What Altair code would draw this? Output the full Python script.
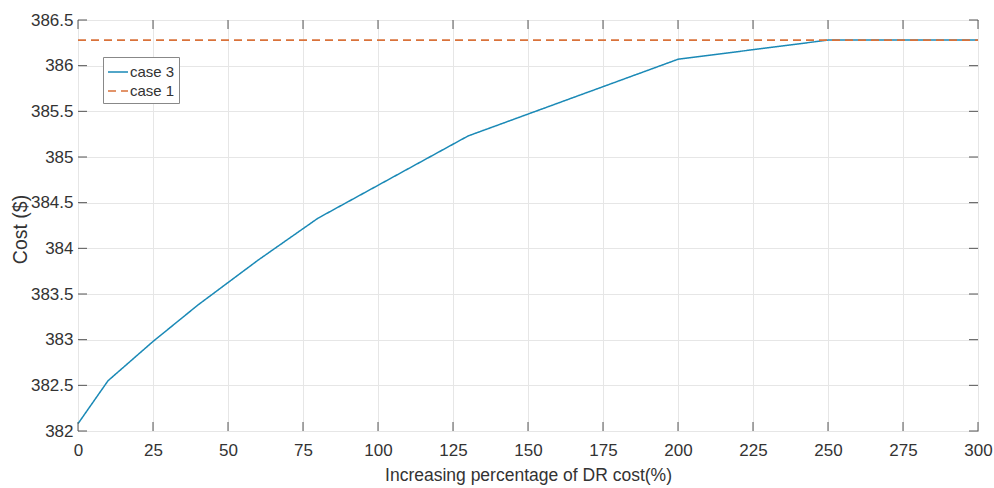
import altair as alt
import pandas as pd

# DR cost increase (%) and resulting operating cost ($)
pct_case3 = [0, 10, 25, 40, 60, 80, 130, 200, 250, 300]
cost_case3 = [382.08, 382.55, 382.98, 383.38, 383.87, 384.33, 385.23, 386.07, 386.28, 386.28]

pct_case1 = [0, 300]
cost_case1 = [386.28, 386.28]

x_ticks = [0, 25, 50, 75, 100, 125, 150, 175, 200, 225, 250, 275, 300]
y_ticks = [382, 382.5, 383, 383.5, 384, 384.5, 385, 385.5, 386, 386.5]

series = ["case 3", "case 1"]
colors = ["#1a89b6", "#d9723a"]
dashes = [[1, 0], [8, 5]]

W, H = 900, 411
FONT = "Liberation Sans"
AXIS_COLOR = "#555555"
TEXT_COLOR = "#333333"

df3 = pd.DataFrame({"pct": pct_case3, "cost": cost_case3, "series": "case 3"})
df1 = pd.DataFrame({"pct": pct_case1, "cost": cost_case1, "series": "case 1"})
xt = pd.DataFrame({"t": x_ticks})
yt = pd.DataFrame({"t": y_ticks})

x_scale = alt.Scale(domain=[0, 300], nice=False, zero=False)
y_scale = alt.Scale(domain=[382, 386.5], nice=False, zero=False)

x_enc = alt.X(
    "pct:Q",
    scale=x_scale,
    axis=alt.Axis(
        values=x_ticks, format="d", title="Increasing percentage of DR cost(%)",
        ticks=False, domain=False, labelPadding=11, grid=True, labelFlush=False,
        titleY=35, titleBaseline="top", titleFontSize=17.5,
    ),
)
y_enc = alt.Y(
    "cost:Q",
    scale=y_scale,
    axis=alt.Axis(
        values=y_ticks, format="~f", title="Cost ($)",
        ticks=False, domain=False, labelPadding=5, grid=True, labelFlush=False,
        titleX=-58, titleY=209, titleBaseline="middle", titleFontSize=19.5,
    ),
)

legend_style = dict(
    title=None, orient="none", legendX=25, legendY=37,
    symbolType="stroke", symbolSize=400, symbolStrokeWidth=1.5,
    labelFontSize=15, labelFont=FONT, labelColor=TEXT_COLOR, labelOffset=1,
    padding=4, rowPadding=0, strokeColor="#888888", fillColor="white",
)

color_enc = alt.Color(
    "series:N",
    scale=alt.Scale(domain=series, range=colors),
    legend=alt.Legend(**legend_style),
)
dash_enc = alt.StrokeDash(
    "series:N",
    scale=alt.Scale(domain=series, range=dashes),
    legend=alt.Legend(**legend_style),
)

line3 = alt.Chart(df3).mark_line(strokeWidth=1.5).encode(
    x=x_enc, y=y_enc, color=color_enc, strokeDash=dash_enc
)
line1 = alt.Chart(df1).mark_line(strokeWidth=1.8).encode(
    x=x_enc, y=y_enc, color=color_enc, strokeDash=dash_enc
)

TL = 9  # inward tick length
tick_style = dict(color=AXIS_COLOR, strokeWidth=1)
xq = alt.X("t:Q", scale=x_scale)
yq = alt.Y("t:Q", scale=y_scale)

ticks_bottom = alt.Chart(xt).mark_rule(**tick_style).encode(
    x=xq, y=alt.value(H), y2=alt.value(H - TL)
)
ticks_top = alt.Chart(xt).mark_rule(**tick_style).encode(
    x=xq, y=alt.value(0), y2=alt.value(TL)
)
ticks_left = alt.Chart(yt).mark_rule(**tick_style).encode(
    y=yq, x=alt.value(0), x2=alt.value(TL)
)
ticks_right = alt.Chart(yt).mark_rule(**tick_style).encode(
    y=yq, x=alt.value(W), x2=alt.value(W - TL)
)

chart = (
    alt.layer(line3, line1, ticks_bottom, ticks_top, ticks_left, ticks_right)
    .properties(
        width=W, height=H,
        autosize=alt.AutoSizeParams(type="none"),
        padding={"left": 78, "top": 20, "right": 16, "bottom": 57},
        background="white",
    )
    .configure_view(stroke=AXIS_COLOR, strokeWidth=1)
    .configure_axis(
        labelFont=FONT, titleFont=FONT, labelFontSize=17, titleFontSize=17,
        labelColor=TEXT_COLOR, titleColor=TEXT_COLOR, titleFontWeight="normal",
        gridColor="#e6e6e6", gridWidth=1,
    )
    .resolve_scale(color="shared", strokeDash="shared")
)

chart.save("out.html", embed_options={"renderer": "svg", "actions": False})
